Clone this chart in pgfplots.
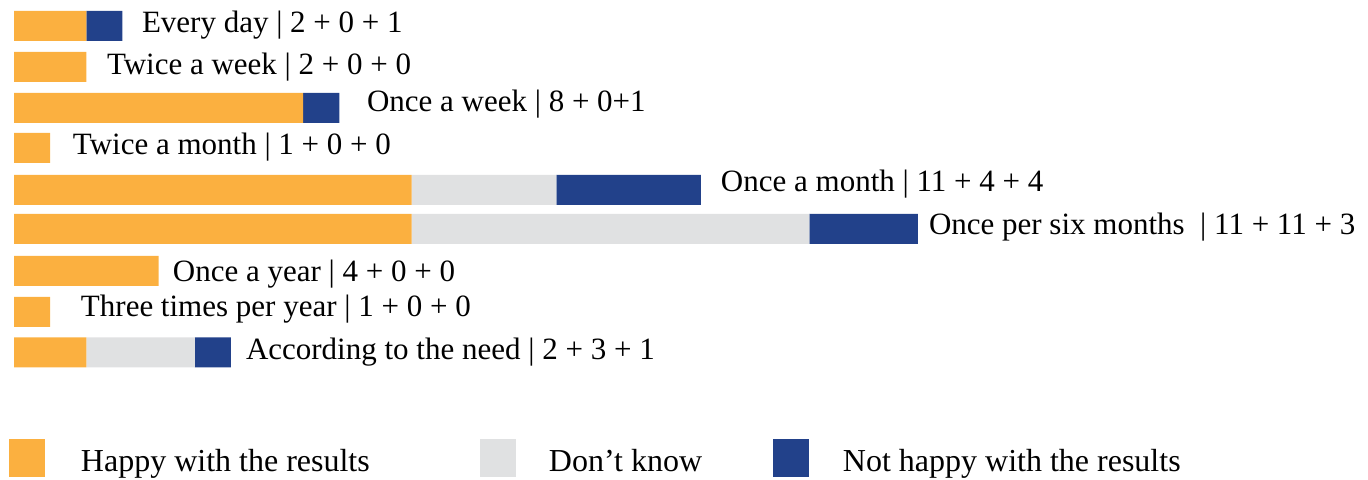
\documentclass[border=0pt]{standalone}
\usepackage{fontspec}
\setmainfont{Liberation Serif}
\usepackage{pgfplots}
\pgfplotsset{compat=1.18}
\definecolor{happy}{HTML}{FBB040}
\definecolor{dk}{HTML}{E0E1E2}
\definecolor{nothappy}{HTML}{22418A}
\tikzset{lbl/.style={anchor=base west, inner sep=0pt, outer sep=0pt, font=\fontsize{15.5bp}{18bp}\selectfont}}
\begin{document}
\begin{tikzpicture}
\begin{axis}[
  scale only axis, width=684bp, height=240bp,
  xmin=-0.3873, xmax=37.455, ymin=-480, ymax=0,
  hide axis, clip=false,
  xbar stacked, bar width=30,
  legend columns=3,
  legend style={draw=none, fill=none, inner sep=0pt, outer sep=0pt,
    at={(axis description cs:0.00658,0.04583)}, anchor=west,
    nodes={inner sep=0pt, outer sep=0pt}, cells={anchor=base west},
    column sep=0pt, font=\fontsize{16bp}{18bp}\selectfont},
  legend image code/.code={\fill[#1] (0bp,-2.5bp) rectangle (18bp,16.5bp);},
]
\addplot[fill=happy, draw=none] coordinates {(2,-26) (2,-67) (8,-108) (1,-148) (11,-190) (11,-229) (4,-271) (1,-312) (2,-352.5)};
\addplot[fill=dk, draw=none] coordinates {(0,-26) (0,-67) (0,-108) (0,-148) (4,-190) (11,-229) (0,-271) (0,-312) (3,-352.5)};
\addplot[fill=nothappy, draw=none] coordinates {(1,-26) (0,-67) (1,-108) (0,-148) (4,-190) (3,-229) (0,-271) (0,-312) (1,-352.5)};
\addlegendentry{\makebox[217.5bp][l]{\hspace*{18bp}Happy with the results}}
\addlegendentry{\makebox[128.5bp][l]{\hspace*{16.5bp}Don’t know}}
\addlegendentry{\hspace*{17bp}Not happy with the results}
\node[lbl] at (axis cs:3.541,-33) {Every day | 2 + 0 + 1};
\node[lbl] at (axis cs:2.573,-75) {Twice a week | 2 + 0 + 0};
\node[lbl] at (axis cs:9.765,-112) {Once a week | 8 + 0+1};
\node[lbl] at (axis cs:1.632,-155) {Twice a month | 1 + 0 + 0};
\node[lbl] at (axis cs:19.557,-192) {Once a month | 11 + 4 + 4};
\node[lbl] at (axis cs:25.311,-235) {Once per six months\ \ | 11 + 11 + 3};
\node[lbl] at (axis cs:4.398,-282) {Once a year | 4 + 0 + 0};
\node[lbl] at (axis cs:1.853,-317) {Three times per year | 1 + 0 + 0};
\node[lbl] at (axis cs:6.418,-360) {According to the need | 2 + 3 + 1};
\end{axis}
\path (current axis.south west) rectangle (current axis.north east);
\end{tikzpicture}
\end{document}
